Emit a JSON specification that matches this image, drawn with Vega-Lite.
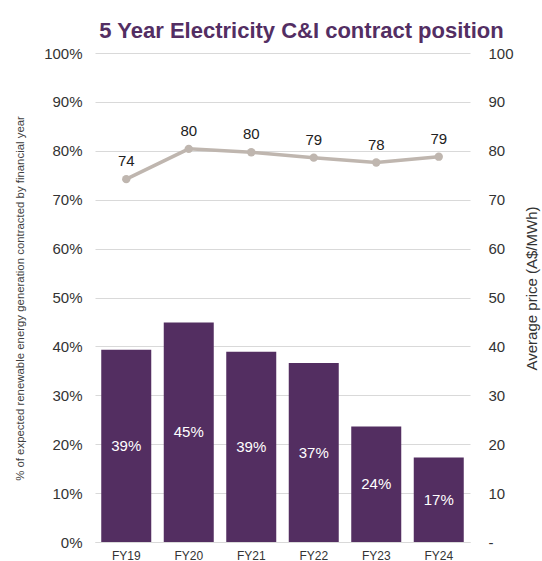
{
  "$schema": "https://vega.github.io/schema/vega-lite/v6.json",
  "autosize": "none",
  "width": 375,
  "height": 489,
  "padding": {"left": 95, "top": 53, "right": 72, "bottom": 19},
  "config": {
    "font": "Liberation Sans",
    "view": {"stroke": null},
    "axis": {"labelColor": "#333333", "titleColor": "#333333", "labelFont": "Liberation Sans", "titleFont": "Liberation Sans", "titleFontWeight": "normal"}
  },
  "title": {
    "text": "5 Year Electricity C&I contract position",
    "font": "Liberation Sans",
    "fontSize": 22,
    "fontWeight": "bold",
    "color": "#532E63",
    "anchor": "middle",
    "dx": 19,
    "offset": 3
  },
  "data": {
    "values": [
      {"fy": "FY19", "pct": 0.393, "price": 74.2},
      {"fy": "FY20", "pct": 0.449, "price": 80.4},
      {"fy": "FY21", "pct": 0.389, "price": 79.7},
      {"fy": "FY22", "pct": 0.366, "price": 78.6},
      {"fy": "FY23", "pct": 0.236, "price": 77.6},
      {"fy": "FY24", "pct": 0.173, "price": 78.8}
    ]
  },
  "encoding": {
    "x": {
      "field": "fy",
      "type": "nominal",
      "sort": null,
      "scale": {"paddingInner": 0.2, "paddingOuter": 0.1},
      "axis": {"title": null, "labelAngle": 0, "labelFontSize": 12, "labelPadding": 8, "ticks": false, "domainColor": "#d9d9d9", "labelColor": "#333333"}
    }
  },
  "layer": [
    {
      "layer": [
        {
          "mark": {"type": "bar", "color": "#532E61"},
          "encoding": {
            "y": {
              "field": "pct",
              "type": "quantitative",
              "scale": {"domain": [0, 1], "nice": false},
              "axis": {
                "title": "% of expected renewable energy generation contracted by financial year",
                "titleFontSize": 11.4,
                "titlePadding": 18,
                "titleY": 245,
                "titleColor": "#404040",
                "format": ".0%",
                "values": [0, 0.1, 0.2, 0.3, 0.4, 0.5, 0.6, 0.7, 0.8, 0.9, 1],
                "labelFontSize": 15,
                "labelPadding": 13,
                "ticks": false,
                "domain": false,
                "grid": true,
                "gridColor": "#d9d9d9"
              }
            }
          }
        },
        {
          "transform": [{"calculate": "datum.pct / 2", "as": "mid"}],
          "mark": {"type": "text", "color": "white", "fontSize": 15, "baseline": "middle"},
          "encoding": {
            "y": {
              "field": "mid",
              "type": "quantitative",
              "scale": {"domain": [0, 1], "nice": false},
              "axis": {
                "title": "% of expected renewable energy generation contracted by financial year",
                "titleFontSize": 11.4,
                "titlePadding": 18,
                "titleY": 245,
                "titleColor": "#404040",
                "format": ".0%",
                "values": [0, 0.1, 0.2, 0.3, 0.4, 0.5, 0.6, 0.7, 0.8, 0.9, 1],
                "labelFontSize": 15,
                "labelPadding": 13,
                "ticks": false,
                "domain": false,
                "grid": true,
                "gridColor": "#d9d9d9"
              }
            },
            "text": {"field": "pct", "type": "quantitative", "format": ".0%"}
          }
        }
      ]
    },
    {
      "layer": [
        {
          "mark": {"type": "line", "color": "#BFB6AF", "strokeWidth": 3.5},
          "encoding": {
            "y": {
              "field": "price",
              "type": "quantitative",
              "scale": {"domain": [0, 100], "nice": false},
              "axis": {
                "title": "Average price (A$/MWh)",
                "orient": "right",
                "titleFontSize": 15,
                "titleAngle": 270,
                "titlePadding": 26,
                "titleY": 235,
                "values": [0, 10, 20, 30, 40, 50, 60, 70, 80, 90, 100],
                "labelExpr": "datum.value == 0 ? '-' : datum.label",
                "labelFontSize": 15,
                "labelPadding": 18,
                "ticks": false,
                "domain": false,
                "grid": false
              }
            }
          }
        },
        {
          "mark": {"type": "point", "filled": true, "color": "#BFB6AF", "size": 70, "opacity": 1},
          "encoding": {"y": {"field": "price", "type": "quantitative"}}
        },
        {
          "mark": {"type": "text", "color": "#222222", "fontSize": 15, "baseline": "bottom", "dy": -10},
          "encoding": {
            "y": {"field": "price", "type": "quantitative"},
            "text": {"field": "price", "type": "quantitative", "format": ".0f"}
          }
        }
      ]
    }
  ],
  "resolve": {"scale": {"y": "independent"}}
}
